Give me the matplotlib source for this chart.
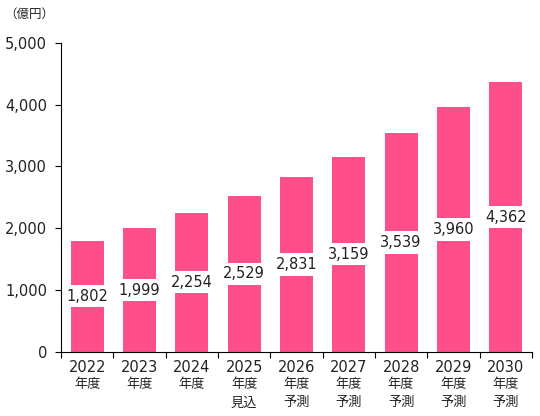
import matplotlib
matplotlib.use('Agg')
import matplotlib.pyplot as plt
import numpy as np

plt.rcParams['font.family'] = ['DejaVu Sans', 'Noto Sans CJK JP']

# 年度ごとの市場規模（億円）
years = ['2022', '2023', '2024', '2025', '2026', '2027', '2028', '2029', '2030']
subs = ['年度', '年度', '年度', '年度\n見込', '年度\n予測', '年度\n予測', '年度\n予測', '年度\n予測', '年度\n予測']
values = [1802, 1999, 2254, 2529, 2831, 3159, 3539, 3960, 4362]

BAR_COLOR = '#FF4F8B'
TXT = '#222222'
JP = ['Noto Sans CJK JP', 'DejaVu Sans']

fig = plt.figure(figsize=(5.4, 4.16), dpi=100)
ax = fig.add_axes([0.113, 0.154, 0.872, 0.743])

x = np.arange(len(values))
ax.bar(x, values, width=0.63, color=BAR_COLOR, zorder=2)

# 値ラベル（バーの真ん中に白い箱）
for xi, v in zip(x, values):
    ax.text(xi, v / 2, f'{v:,}', ha='center', va='center', fontsize=10.5,
            color=TXT, zorder=3,
            bbox=dict(boxstyle='square,pad=0.25', fc='white', ec='none'))

ax.set_xlim(-0.5, len(values) - 0.5)
ax.set_ylim(0, 5000)
ax.set_yticks(range(0, 5001, 1000))
ax.set_yticklabels([f'{t:,}' for t in range(0, 5001, 1000)], fontsize=10.5, color=TXT)

# x目盛りはカテゴリの境目に
ax.set_xticks(np.arange(-0.5, len(values), 1.0))
ax.set_xticklabels([])
ax.tick_params(axis='x', length=4, direction='out')
ax.tick_params(axis='y', length=4, direction='out', pad=6)

# 年 + 年度/見込/予測 は別々に描く（数字と漢字で大きさが違う）
for xi, y, s in zip(x, years, subs):
    ax.annotate(y, xy=(xi, 0), xycoords=('data', 'axes fraction'),
                xytext=(0, -16), textcoords='offset pixels',
                ha='center', va='center', fontsize=10.5, color=TXT)
    for k, line in enumerate(s.split('\n')):
        ax.annotate(line, xy=(xi, 0), xycoords=('data', 'axes fraction'),
                    xytext=(0, -33 - 18 * k), textcoords='offset pixels',
                    ha='center', va='center', fontsize=9.5, color=TXT, family=JP)

ax.spines['top'].set_visible(False)
ax.spines['right'].set_visible(False)

fig.text(0.008, 0.966, '（億円）', fontsize=9, color=TXT, ha='left', va='center', family=JP)

fig.savefig('out.png', dpi=100)
